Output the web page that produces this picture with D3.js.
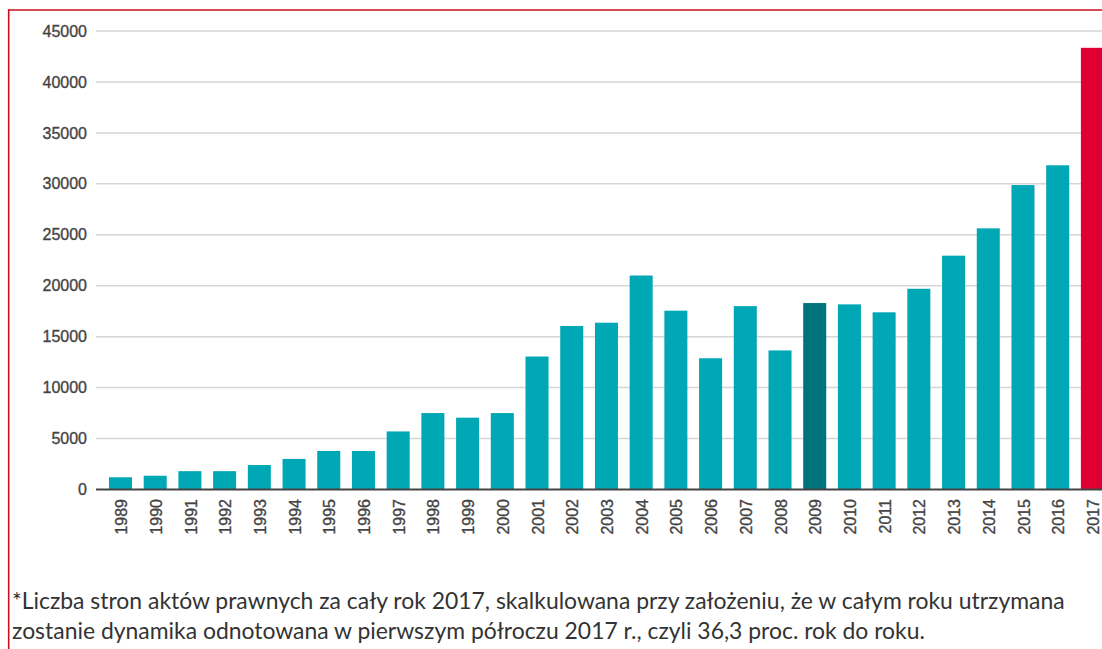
<!DOCTYPE html>
<html>
<head>
<meta charset="utf-8">
<script src="https://cdn.jsdelivr.net/npm/d3@7"></script>
<style>
  body { margin: 0; background: #fff; }
  svg { display: block; }
</style>
</head>
<body>
<svg id="chart"></svg>
<script>
// Data
const years = ["1989", "1990", "1991", "1992", "1993", "1994", "1995", "1996", "1997", "1998",
    "1999", "2000", "2001", "2002", "2003", "2004", "2005", "2006", "2007", "2008",
    "2009", "2010", "2011", "2012", "2013", "2014", "2015", "2016", "2017"];
const pages = [1200, 1350, 1800, 1800, 2400, 3000, 3780, 3780, 5700, 7500,
    7050, 7500, 13050, 16050, 16370, 21000, 17550, 12880, 18000, 13650,
    18300, 18170, 17390, 19700, 22950, 25630, 29880, 31820, 43350];
const yTicks = [0, 5000, 10000, 15000, 20000, 25000, 30000, 35000, 40000, 45000];
const highlightDark = ["2009"];
const highlightRed = ["2017"];
const footnote = [
    "*Liczba stron aktów prawnych za cały rok 2017, skalkulowana przy założeniu, że w całym roku utrzymana",
    "zostanie dynamika odnotowana w pierwszym półroczu 2017 r., czyli 36,3 proc. rok do roku."
];

const width = 1102;
const height = 649;

const svg = d3.select("#chart")
    .attr("width", width)
    .attr("height", height);

// Scales
const step = 34.71;
const xScale = d3.scaleBand()
    .domain(years)
    .range([103.15, 103.15 + step * years.length])
    .paddingInner(0.337)
    .paddingOuter(0.168);

const yScale = d3.scaleLinear()
    .domain([0, 45000])
    .range([489.5, 31]);

// Gridlines
svg.append("g")
    .selectAll("line")
    .data(yTicks.filter(d => d > 0))
    .enter()
    .append("line")
    .attr("x1", 96)
    .attr("x2", width)
    .attr("y1", d => yScale(d))
    .attr("y2", d => yScale(d))
    .attr("stroke", "#d6d6d6")
    .attr("stroke-width", 1.5);

// Y axis labels
const yAxis = svg.append("g")
    .attr("transform", "translate(96, 0)")
    .call(d3.axisLeft(yScale).tickValues(yTicks).tickSize(0).tickPadding(9).tickFormat(d3.format("d")));
yAxis.select(".domain").remove();
yAxis.selectAll("text")
    .attr("fill", "#444")
    .attr("stroke", "#444")
    .attr("stroke-width", 0.35)
    .attr("font-family", "Liberation Sans, Arial, sans-serif")
    .attr("font-size", "16px");

// Bars
svg.append("g")
    .selectAll("rect")
    .data(years)
    .enter()
    .append("rect")
    .attr("x", d => xScale(d))
    .attr("width", xScale.bandwidth())
    .attr("y", (d, i) => yScale(pages[i]))
    .attr("height", (d, i) => yScale(0) - yScale(pages[i]))
    .attr("fill", d => highlightRed.includes(d) ? "#dd0030" : (highlightDark.includes(d) ? "#00747d" : "#00a7b4"));

// Baseline
svg.append("line")
    .attr("x1", 96)
    .attr("x2", width)
    .attr("y1", yScale(0))
    .attr("y2", yScale(0))
    .attr("stroke", "#444")
    .attr("stroke-width", 2);

// X axis labels (rotated)
const xAxis = svg.append("g")
    .attr("transform", `translate(0, ${yScale(0)})`)
    .call(d3.axisBottom(xScale).tickSize(0).tickPadding(0));
xAxis.select(".domain").remove();
xAxis.selectAll("text")
    .attr("transform", "rotate(-90)")
    .attr("x", -9.5)
    .attr("y", 1)
    .attr("dy", "0.35em")
    .attr("text-anchor", "end")
    .attr("fill", "#444")
    .attr("stroke", "#444")
    .attr("stroke-width", 0.35)
    .attr("font-family", "Liberation Sans, Arial, sans-serif")
    .attr("font-size", "16px");

// Frame
svg.append("line")
    .attr("x1", 8).attr("x2", width)
    .attr("y1", 10).attr("y2", 10)
    .attr("stroke", "#c8101e")
    .attr("stroke-width", 1.6);
svg.append("line")
    .attr("x1", 8.7).attr("x2", 8.7)
    .attr("y1", 9.2).attr("y2", height)
    .attr("stroke", "#c8101e")
    .attr("stroke-width", 1.6);

// Footnote
const noteWidths = [1053, 900];
const notes = svg.append("g").attr("class", "note");
notes.selectAll("text")
    .data(footnote)
    .enter()
    .append("text")
    .attr("x", 12)
    .attr("y", (d, i) => 609 + i * 30)
    .attr("fill", "#333")
    .attr("font-family", "Lato, 'Noto Sans', sans-serif")
    .attr("font-size", "19px")
    .text(d => d);

// fit the first line to the measured width, same size for the second
const firstLen = notes.select("text").node().getComputedTextLength();
notes.selectAll("text").attr("font-size", (19 * noteWidths[0] / firstLen) + "px");
</script>
</body>
</html>
